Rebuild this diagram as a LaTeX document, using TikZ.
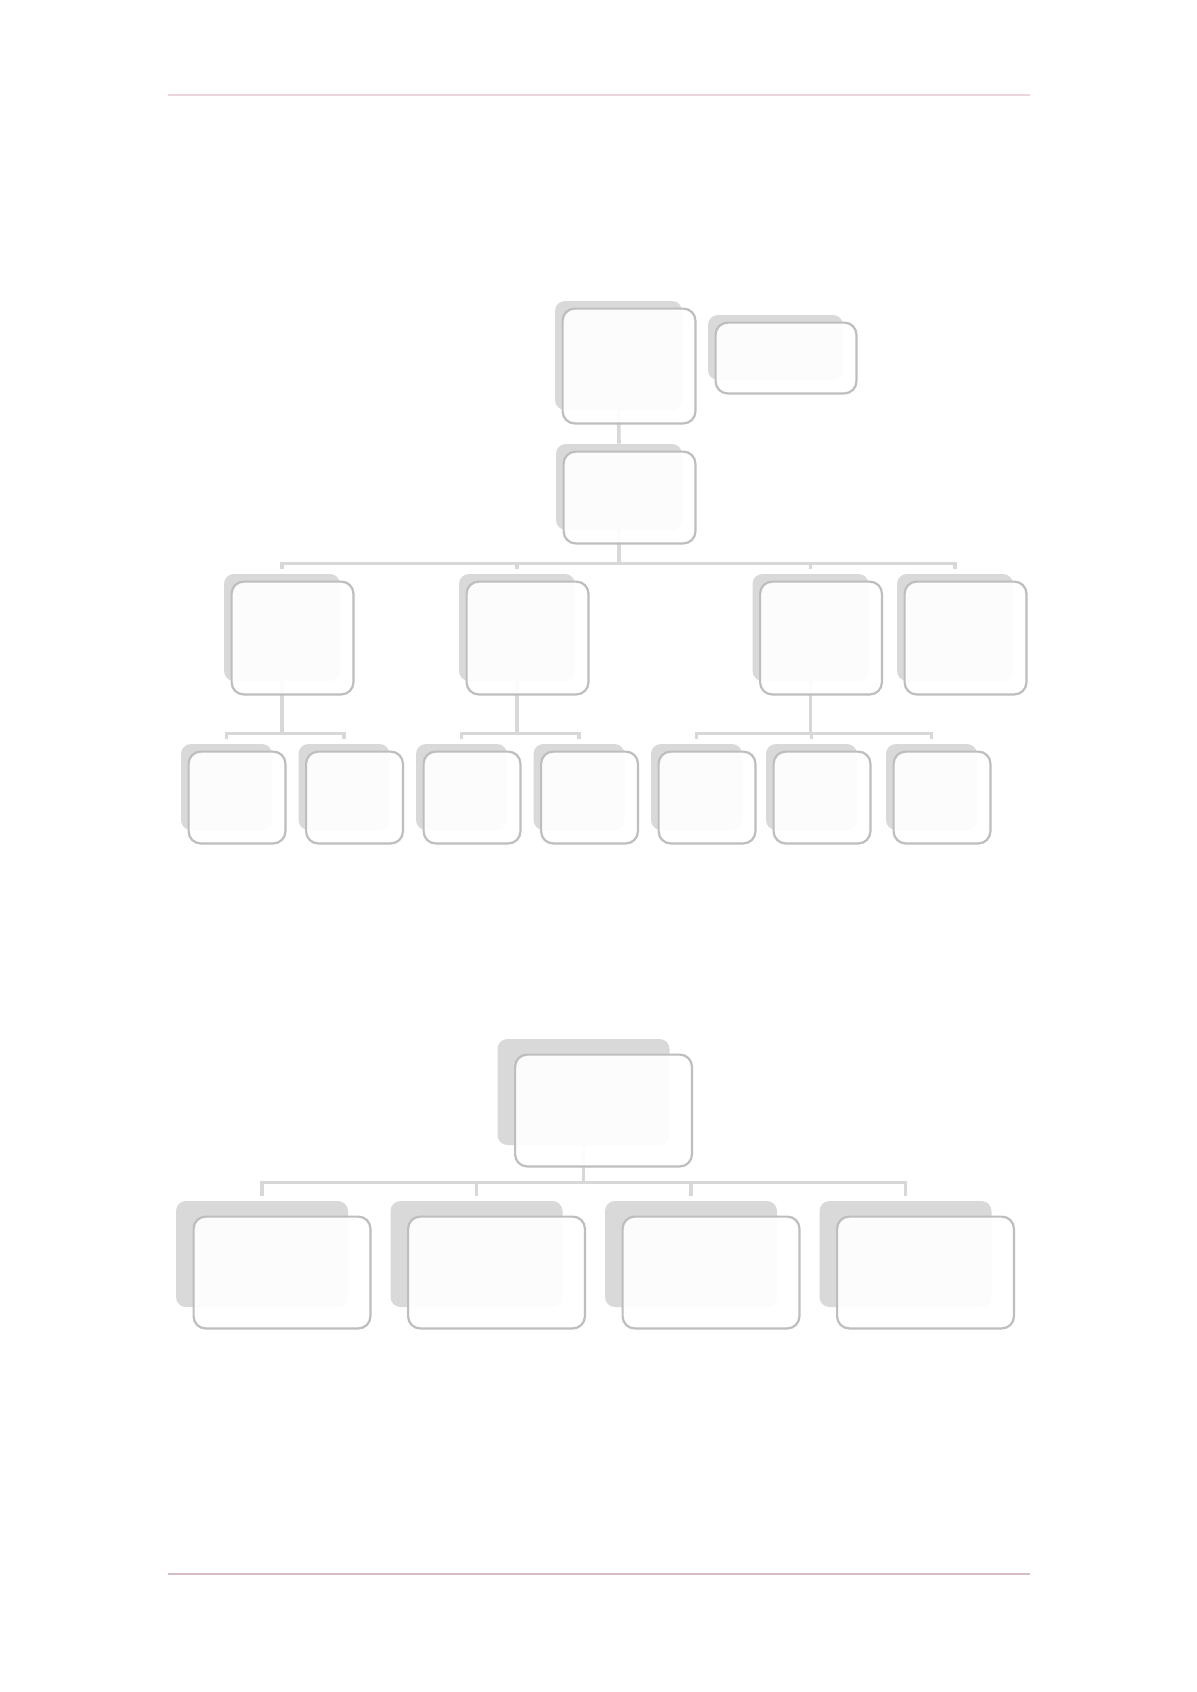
\documentclass[tikz,border=0pt]{standalone}
\usetikzlibrary{backgrounds}

\definecolor{shadegray}{RGB}{217,217,217}
\definecolor{edgegray}{RGB}{190,190,190}
\definecolor{linkgray}{RGB}{216,216,216}
\definecolor{rulepink}{RGB}{238,212,220}
\definecolor{rulepinkdark}{RGB}{214,188,196}

\tikzset{
  backbox/.style={fill=shadegray, draw=none, rounded corners=5pt, inner sep=0pt},
  frontbox/.style={draw=edgegray, line width=1.1pt, fill=white, fill opacity=0.93, rounded corners=6pt},
  connector/.style={draw=linkgray, line width=1.8pt},
  pagerule/.style={line width=0.7pt}
}

\begin{document}
\begin{tikzpicture}[x=0.5pt, y=-0.5pt]
    % upper chart
    \node[backbox, minimum width=63.5pt, minimum height=54.5pt] (head) at (618.5,355.5) {}; % top
    \node[backbox, minimum width=67.5pt, minimum height=32.5pt] (aide) at (775.5,347.5) {}; % assistant
    \node[backbox, minimum width=63pt, minimum height=43pt] (deputy) at (619,487) {};
    \node[backbox, minimum width=58pt, minimum height=53.5pt] (dept1) at (282,627.5) {};
    \node[backbox, minimum width=58pt, minimum height=53.5pt] (dept2) at (517,627.5) {};
    \node[backbox, minimum width=58pt, minimum height=53.5pt] (dept3) at (810.5,627.5) {};
    \node[backbox, minimum width=58pt, minimum height=53.5pt] (dept4) at (955,627.5) {};
    \node[backbox, minimum width=45.5pt, minimum height=43pt] (team1) at (226.5,787) {};
    \node[backbox, minimum width=45.5pt, minimum height=43pt] (team2) at (344,787) {};
    \node[backbox, minimum width=45.5pt, minimum height=43pt] (team3) at (461.5,787) {};
    \node[backbox, minimum width=45.5pt, minimum height=43pt] (team4) at (579,787) {};
    \node[backbox, minimum width=45.5pt, minimum height=43pt] (team5) at (696.5,787) {};
    \node[backbox, minimum width=45.5pt, minimum height=43pt] (team6) at (811.5,787) {};
    \node[backbox, minimum width=45.5pt, minimum height=43pt] (team7) at (931.5,787) {};
    % lower chart
    \node[backbox, minimum width=86pt, minimum height=53pt] (lead) at (583.5,1092) {};
    \node[backbox, minimum width=86pt, minimum height=53pt] (unit1) at (262,1254) {};
    \node[backbox, minimum width=86pt, minimum height=53pt] (unit2) at (476.5,1254) {};
    \node[backbox, minimum width=86pt, minimum height=53pt] (unit3) at (691,1254) {};
    \node[backbox, minimum width=86pt, minimum height=53pt] (unit4) at (905.5,1254) {};

    % front cards
    \foreach \n in {head,aide,deputy,dept1,dept2,dept3,dept4,team1,team2,team3,team4,team5,team6,team7}
      \draw[frontbox] ([shift={(8,8)}]\n.north west) rectangle ([shift={(13,13)}]\n.south east);
    \foreach \n in {lead,unit1,unit2,unit3,unit4}
      \draw[frontbox] ([shift={(18,16)}]\n.north west) rectangle ([shift={(22,21)}]\n.south east);

    \begin{scope}[on background layer]
    \path[fill=white] (0,0) rectangle (1196,1692); % page
    \draw[pagerule, draw=rulepink] (168,95) -- (1030,95); % header rule
    \draw[pagerule, draw=rulepinkdark] (168,1574) -- (1030,1574); % footer rule
    % upper chart links
    \draw[connector] (head.south) -- (deputy.north);
    \draw[connector] (deputy.south) -- ++(0,33) coordinate (bar1);
    \draw[connector] ([shift={(0,-5)}]dept1.north) |- (bar1) -| ([shift={(0,-5)}]dept4.north);
    \draw[connector] ([shift={(0,-5)}]dept2.north) -- (dept2 |- bar1);
    \draw[connector] ([shift={(0,-5)}]dept3.north) -- (dept3 |- bar1);
    \draw[connector] (dept1.south) -- ++(0,52) coordinate (bar2);
    \draw[connector] ([shift={(0,-5)}]team1.north) |- (bar2) -| ([shift={(0,-5)}]team2.north);
    \draw[connector] (dept2.south) -- ++(0,52) coordinate (bar3);
    \draw[connector] ([shift={(0,-5)}]team3.north) |- (bar3) -| ([shift={(0,-5)}]team4.north);
    \draw[connector] (dept3.south) -- ++(0,52) coordinate (bar4);
    \draw[connector] ([shift={(0,-5)}]team5.north) |- (bar4) -| ([shift={(0,-5)}]team7.north);
    \draw[connector] ([shift={(0,-5)}]team6.north) -- (team6 |- bar4);
    % lower chart links
    \draw[connector] (lead.south) -- ++(0,37) coordinate (bar5);
    \draw[connector] ([shift={(0,-5)}]unit1.north) |- (bar5) -| ([shift={(0,-5)}]unit4.north);
    \draw[connector] ([shift={(0,-5)}]unit2.north) -- (unit2 |- bar5);
    \draw[connector] ([shift={(0,-5)}]unit3.north) -- (unit3 |- bar5);
    \end{scope}
\end{tikzpicture}
\end{document}
